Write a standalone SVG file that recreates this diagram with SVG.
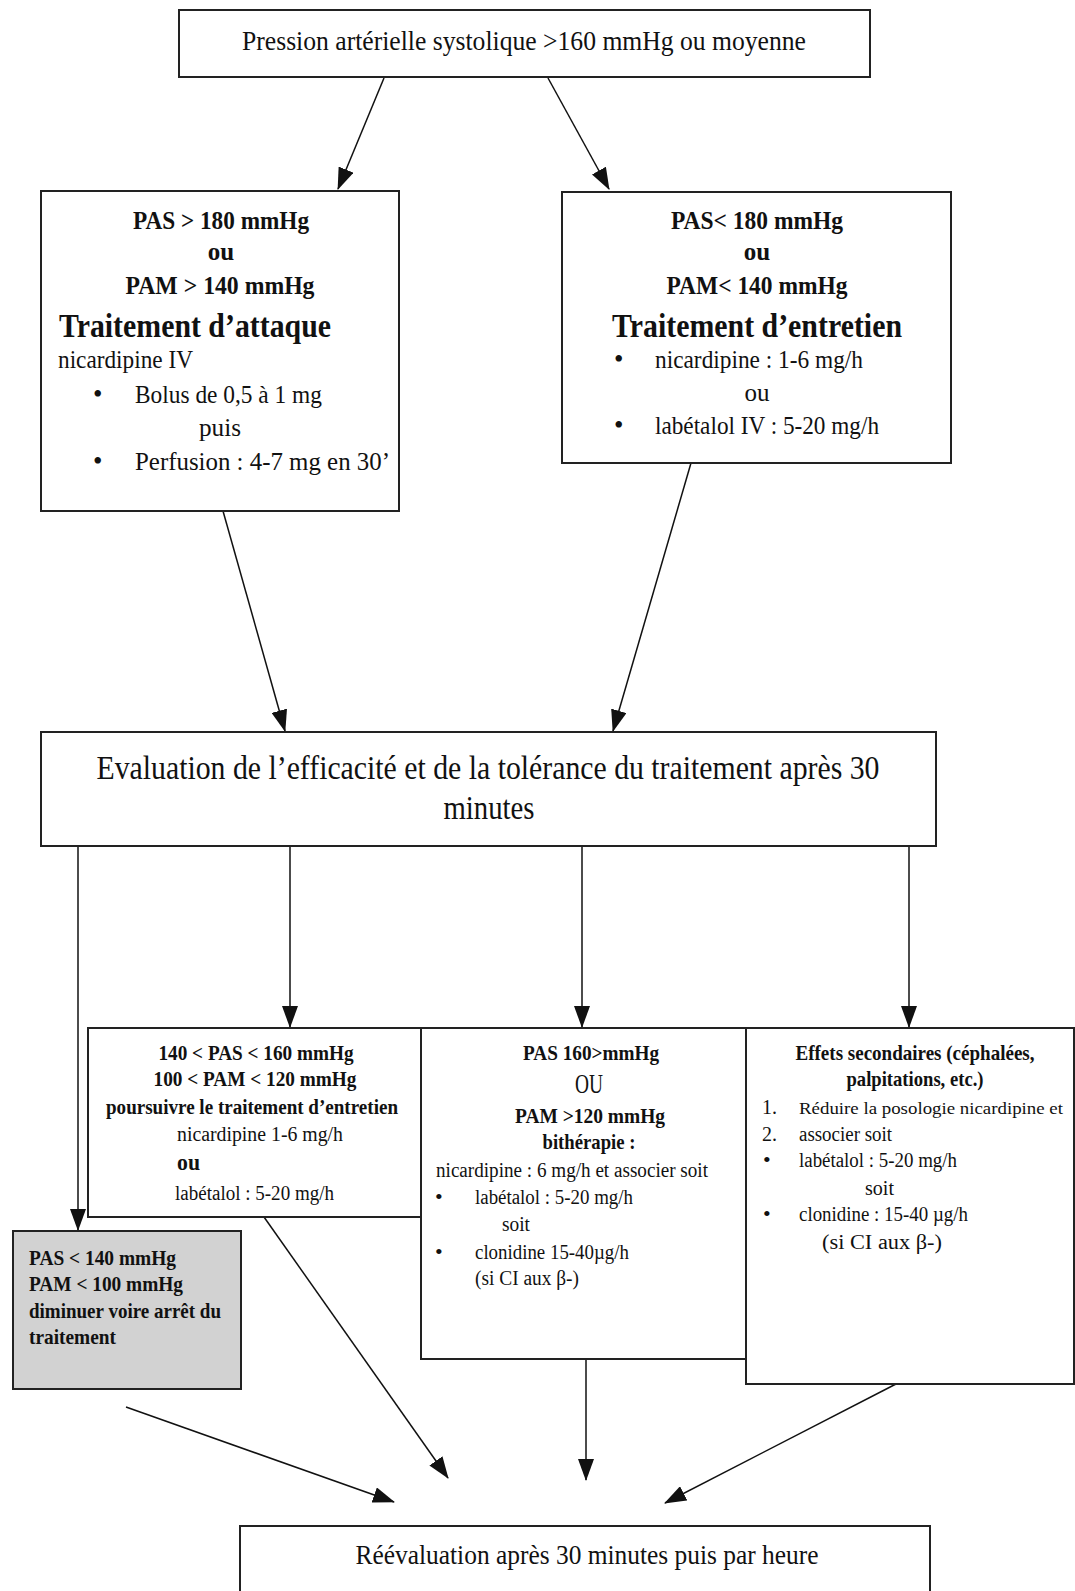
<svg xmlns="http://www.w3.org/2000/svg" width="1075" height="1591" viewBox="0 0 1075 1591">
<defs>
<style>
.box{fill:#fff;stroke:#222;stroke-width:2}
.grey{fill:#d2d2d2;stroke:#222;stroke-width:2}
text{font-family:"Liberation Serif","Times New Roman",serif;fill:#111}
.c{text-anchor:middle}
.b{font-weight:bold}
.ln{stroke:#111;stroke-width:1.5;fill:none}
</style>
<marker id="ah" markerUnits="userSpaceOnUse" markerWidth="22" markerHeight="16" viewBox="0 0 22 16" refX="21" refY="8" orient="auto">
<path d="M0,0 L22,8 L0,16 Z" fill="#111"/>
</marker>
</defs>
<rect width="1075" height="1591" fill="#fff"/>

<g id="connectors">
<line class="ln" x1="384" y1="78" x2="338" y2="189" marker-end="url(#ah)"/>
<line class="ln" x1="548" y1="78" x2="609" y2="189" marker-end="url(#ah)"/>
<line class="ln" x1="223" y1="511" x2="285" y2="731" marker-end="url(#ah)"/>
<line class="ln" x1="691" y1="463" x2="613" y2="731" marker-end="url(#ah)"/>
<line class="ln" x1="78" y1="846" x2="78" y2="1230" marker-end="url(#ah)"/>
<line class="ln" x1="290" y1="846" x2="290" y2="1027" marker-end="url(#ah)"/>
<line class="ln" x1="582" y1="846" x2="582" y2="1027" marker-end="url(#ah)"/>
<line class="ln" x1="909" y1="846" x2="909" y2="1027" marker-end="url(#ah)"/>
<line class="ln" x1="126" y1="1407" x2="394" y2="1502" marker-end="url(#ah)"/>
<line class="ln" x1="264" y1="1217" x2="448" y2="1478" marker-end="url(#ah)"/>
<line class="ln" x1="586" y1="1359" x2="586" y2="1480" marker-end="url(#ah)"/>
<line class="ln" x1="896" y1="1384" x2="665" y2="1503" marker-end="url(#ah)"/>
</g>

<g id="top">
<rect class="box" x="179" y="10" width="691" height="67"/>
<text x="524" y="50" class="c" font-size="28" textLength="564" lengthAdjust="spacingAndGlyphs">Pression artérielle systolique &gt;160 mmHg ou moyenne</text>
</g>

<g id="attaque">
<rect class="box" x="41" y="191" width="358" height="320"/>
<text x="221" y="229" class="c b" font-size="25" textLength="176" lengthAdjust="spacingAndGlyphs">PAS &gt; 180 mmHg</text>
<text x="221" y="260" class="c b" font-size="25">ou</text>
<text x="220" y="294" class="c b" font-size="25" textLength="189" lengthAdjust="spacingAndGlyphs">PAM &gt; 140 mmHg</text>
<text x="59" y="337" class="b" font-size="34" textLength="272" lengthAdjust="spacingAndGlyphs">Traitement d’attaque</text>
<text x="58" y="368" font-size="25" textLength="135" lengthAdjust="spacingAndGlyphs">nicardipine IV</text>
<text x="93" y="403" font-size="27">•</text>
<text x="135" y="403" font-size="25" textLength="187" lengthAdjust="spacingAndGlyphs">Bolus de 0,5 à 1 mg</text>
<text x="220" y="436" class="c" font-size="25" textLength="42" lengthAdjust="spacingAndGlyphs">puis</text>
<text x="93" y="470" font-size="27">•</text>
<text x="135" y="470" font-size="25" textLength="255" lengthAdjust="spacingAndGlyphs">Perfusion : 4-7 mg en 30’</text>
</g>

<g id="entretien">
<rect class="box" x="562" y="192" width="389" height="271"/>
<text x="757" y="229" class="c b" font-size="25" textLength="172" lengthAdjust="spacingAndGlyphs">PAS&lt; 180 mmHg</text>
<text x="757" y="260" class="c b" font-size="25">ou</text>
<text x="757" y="294" class="c b" font-size="25" textLength="181" lengthAdjust="spacingAndGlyphs">PAM&lt; 140 mmHg</text>
<text x="757" y="337" class="c b" font-size="34" textLength="290" lengthAdjust="spacingAndGlyphs">Traitement d’entretien</text>
<text x="614" y="368" font-size="27">•</text>
<text x="655" y="368" font-size="25" textLength="208" lengthAdjust="spacingAndGlyphs">nicardipine : 1-6 mg/h</text>
<text x="757" y="401" class="c" font-size="25">ou</text>
<text x="614" y="434" font-size="27">•</text>
<text x="655" y="434" font-size="25" textLength="224" lengthAdjust="spacingAndGlyphs">labétalol IV : 5-20 mg/h</text>
</g>

<g id="evaluation">
<rect class="box" x="41" y="732" width="895" height="114"/>
<text x="488" y="779" class="c" font-size="33" textLength="783" lengthAdjust="spacingAndGlyphs">Evaluation de l’efficacité et de la tolérance du traitement après 30</text>
<text x="489" y="819" class="c" font-size="33" textLength="91" lengthAdjust="spacingAndGlyphs">minutes</text>
</g>

<g id="poursuivre">
<rect class="box" x="88" y="1028" width="333" height="189"/>
<text x="256" y="1060" class="c b" font-size="21" textLength="195" lengthAdjust="spacingAndGlyphs">140 &lt; PAS &lt; 160 mmHg</text>
<text x="255" y="1086" class="c b" font-size="21" textLength="203" lengthAdjust="spacingAndGlyphs">100 &lt; PAM &lt; 120 mmHg</text>
<text x="252" y="1114" class="c b" font-size="20" textLength="292" lengthAdjust="spacingAndGlyphs">poursuivre le traitement d’entretien</text>
<text x="177" y="1141" font-size="20" textLength="166" lengthAdjust="spacingAndGlyphs">nicardipine  1-6 mg/h</text>
<text x="177" y="1170" class="b" font-size="23" textLength="23" lengthAdjust="spacingAndGlyphs">ou</text>
<text x="175" y="1200" font-size="20" textLength="159" lengthAdjust="spacingAndGlyphs">labétalol : 5-20 mg/h</text>
</g>

<g id="bitherapie">
<rect class="box" x="421" y="1028" width="327" height="331"/>
<text x="591" y="1060" class="c b" font-size="21" textLength="136" lengthAdjust="spacingAndGlyphs">PAS 160&gt;mmHg</text>
<text x="589" y="1093" class="c" font-size="27" textLength="28" lengthAdjust="spacingAndGlyphs">OU</text>
<text x="590" y="1123" class="c b" font-size="21" textLength="150" lengthAdjust="spacingAndGlyphs">PAM &gt;120 mmHg</text>
<text x="589" y="1149" class="c b" font-size="21" textLength="93" lengthAdjust="spacingAndGlyphs">bithérapie :</text>
<text x="436" y="1177" font-size="20" textLength="272" lengthAdjust="spacingAndGlyphs">nicardipine : 6 mg/h et associer soit</text>
<text x="435" y="1204" font-size="22">•</text>
<text x="475" y="1204" font-size="20" textLength="158" lengthAdjust="spacingAndGlyphs">labétalol : 5-20 mg/h</text>
<text x="502" y="1231" font-size="20" textLength="28" lengthAdjust="spacingAndGlyphs">soit</text>
<text x="435" y="1259" font-size="22">•</text>
<text x="475" y="1259" font-size="20" textLength="154" lengthAdjust="spacingAndGlyphs">clonidine 15-40µg/h</text>
<text x="475" y="1285" font-size="20" textLength="104" lengthAdjust="spacingAndGlyphs">(si CI aux β-)</text>
</g>

<g id="effets">
<rect class="box" x="746" y="1028" width="328" height="356"/>
<text x="915" y="1060" class="c b" font-size="21" textLength="239" lengthAdjust="spacingAndGlyphs">Effets secondaires (céphalées,</text>
<text x="915" y="1086" class="c b" font-size="21" textLength="137" lengthAdjust="spacingAndGlyphs">palpitations, etc.)</text>
<text x="762" y="1114" font-size="20">1.</text>
<text x="799" y="1114" font-size="17.5" textLength="264" lengthAdjust="spacingAndGlyphs">Réduire la posologie nicardipine et</text>
<text x="762" y="1141" font-size="20">2.</text>
<text x="799" y="1141" font-size="20" textLength="93" lengthAdjust="spacingAndGlyphs">associer soit</text>
<text x="763" y="1167" font-size="22">•</text>
<text x="799" y="1167" font-size="20" textLength="158" lengthAdjust="spacingAndGlyphs">labétalol : 5-20 mg/h</text>
<text x="865" y="1195" font-size="20" textLength="29" lengthAdjust="spacingAndGlyphs">soit</text>
<text x="763" y="1221" font-size="22">•</text>
<text x="799" y="1221" font-size="20" textLength="169" lengthAdjust="spacingAndGlyphs">clonidine : 15-40 µg/h</text>
<text x="822" y="1249" font-size="20" textLength="120" lengthAdjust="spacingAndGlyphs">(si CI aux β-)</text>
</g>

<g id="diminuer">
<rect class="grey" x="13" y="1231" width="228" height="158"/>
<text x="29" y="1265" class="b" font-size="21" textLength="147" lengthAdjust="spacingAndGlyphs">PAS &lt; 140 mmHg</text>
<text x="29" y="1291" class="b" font-size="21" textLength="154" lengthAdjust="spacingAndGlyphs">PAM &lt; 100 mmHg</text>
<text x="29" y="1318" class="b" font-size="21" textLength="192" lengthAdjust="spacingAndGlyphs">diminuer voire arrêt du</text>
<text x="29" y="1344" class="b" font-size="21" textLength="87" lengthAdjust="spacingAndGlyphs">traitement</text>
</g>

<g id="reevaluation">
<rect class="box" x="240" y="1526" width="690" height="80"/>
<text x="587" y="1564" class="c" font-size="27" textLength="463" lengthAdjust="spacingAndGlyphs">Réévaluation après 30 minutes puis par heure</text>
</g>
</svg>
